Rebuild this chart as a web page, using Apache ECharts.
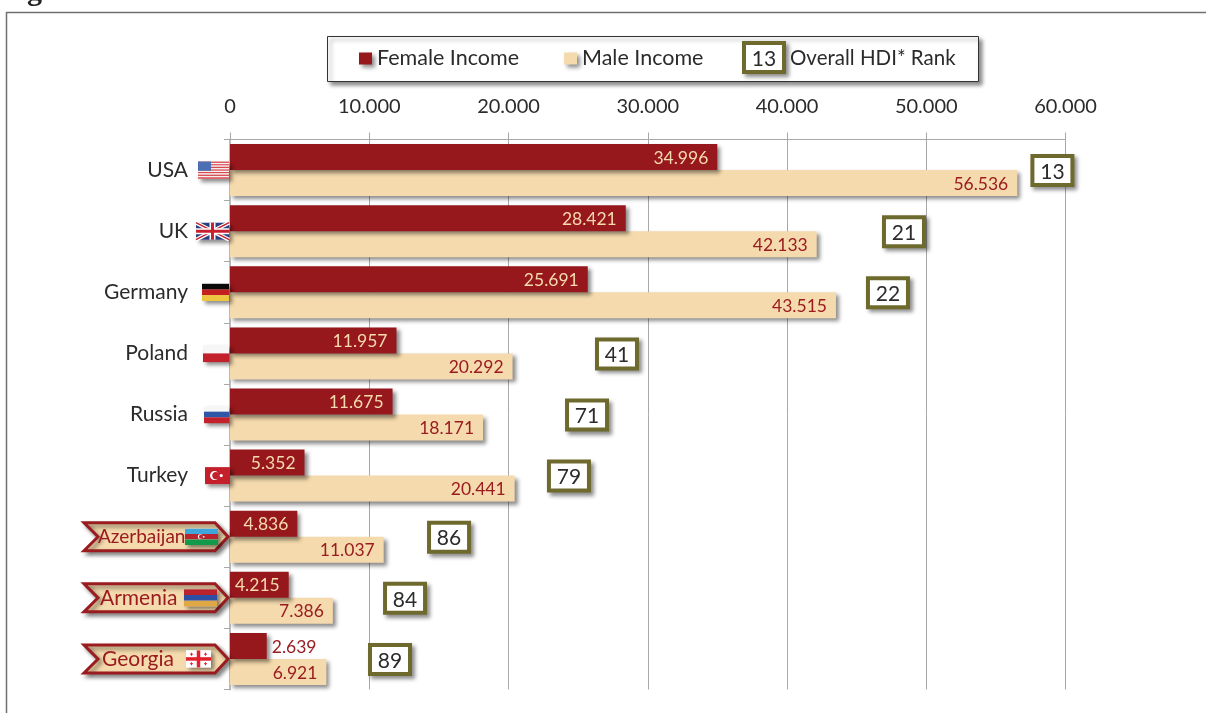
<!DOCTYPE html>
<html>
<head>
<meta charset="utf-8">
<title>Income by gender</title>
<script src="https://cdn.jsdelivr.net/npm/echarts@6/dist/echarts.min.js"></script>
<style>
html, body { margin: 0; padding: 0; background: #fff; overflow: hidden; }
#chart { width: 1206px; height: 713px; }
</style>
</head>
<body>
<div id="chart"></div>
<script>
const categories = ['USA', 'UK', 'Germany', 'Poland', 'Russia', 'Turkey', 'Azerbaijan', 'Armenia', 'Georgia'];
const femaleIncome = [34996, 28421, 25691, 11957, 11675, 5352, 4836, 4215, 2639];
const maleIncome = [56536, 42133, 43515, 20292, 18171, 20441, 11037, 7386, 6921];
const hdiRank = [13, 21, 22, 41, 71, 79, 86, 84, 89];
// where the rank box sits, in income units
const rankAt = [59060, 48400, 47250, 27790, 25640, 24340, 15730, 12570, 11490];
const xTicks = [0, 10000, 20000, 30000, 40000, 50000, 60000];
const tagged = ['Azerbaijan', 'Armenia', 'Georgia'];

const RED = '#96171C';
const TAN = '#F5DAAD';
const OLIVE = '#6E6A2E';
const INK = '#2b2b2b';
const FONT = 'Lato';
const shadow = { shadowColor: 'rgba(0,0,0,0.45)', shadowBlur: 4, shadowOffsetX: 3, shadowOffsetY: 3 };

// flag box relative to the axis: right edge offset from x=0, width, height
const flagBox = {
    USA: [-1, 31, 17], UK: [-1, 33, 17], Germany: [-1, 27, 17], Poland: [-1, 26, 17], Russia: [-1, 25, 17],
    Turkey: [0, 25, 17], Azerbaijan: [-12, 33, 16], Armenia: [-13, 33, 17], Georgia: [-19, 25, 17]
};
// tag text: offset of its left edge from the axis, font size
const tagText = { Azerbaijan: [-132, 19], Armenia: [-130, 21], Georgia: [-128, 21] };

function rect(x, y, w, h, fill, extra) {
    return { type: 'rect', shape: { x: x, y: y, width: w, height: h }, style: Object.assign({ fill: fill }, extra || {}) };
}
function line(x1, y1, x2, y2, color, width) {
    return { type: 'line', shape: { x1: x1, y1: y1, x2: x2, y2: y2 }, style: { stroke: color, lineWidth: width } };
}
function stripes(x, y, w, h, colors) {
    const s = h / colors.length;
    return colors.map((c, i) => rect(x, y + i * s, w, s + 0.2, c));
}
function crescent(cx, cy, r, back) {
    return [
        { type: 'circle', shape: { cx: cx, cy: cy, r: r }, style: { fill: '#fff' } },
        { type: 'circle', shape: { cx: cx + r * 0.3, cy: cy, r: r * 0.8 }, style: { fill: back } },
        { type: 'circle', shape: { cx: cx + r * 1.5, cy: cy, r: r * 0.35 }, style: { fill: '#fff' } }
    ];
}
function flagParts(name, x, y, w, h) {
    if (name === 'USA') {
        const c = [];
        for (let i = 0; i < 13; i++) c.push(i % 2 ? '#f4f0f0' : '#d8484f');
        return stripes(x, y, w, h, c).concat([rect(x, y, w * 0.42, h * 0.54, '#4a6fb5')]);
    }
    if (name === 'UK') {
        return [
            rect(x, y, w, h, '#2b3f7e'),
            line(x, y, x + w, y + h, '#fff', 4), line(x + w, y, x, y + h, '#fff', 4),
            line(x, y, x + w, y + h, '#c8202f', 1.5), line(x + w, y, x, y + h, '#c8202f', 1.5),
            line(x + w / 2, y, x + w / 2, y + h, '#fff', 6), line(x, y + h / 2, x + w, y + h / 2, '#fff', 6),
            line(x + w / 2, y, x + w / 2, y + h, '#c8202f', 3), line(x, y + h / 2, x + w, y + h / 2, '#c8202f', 3)
        ];
    }
    if (name === 'Germany') return stripes(x, y, w, h, ['#0a0a0a', '#c3211f', '#eec540']);
    if (name === 'Poland') return stripes(x, y, w, h, ['#f6f6f6', '#c4202b']);
    if (name === 'Russia') return stripes(x, y, w, h, ['#f6f6f6', '#2f57a8', '#c4202b']);
    if (name === 'Turkey') return [rect(x, y, w, h, '#c4202b')].concat(crescent(x + w * 0.38, y + h / 2, 4.5, '#c4202b'));
    if (name === 'Azerbaijan') {
        return stripes(x, y, w, h, ['#3fa6dc', '#b8232d', '#129a4b']).concat(crescent(x + w * 0.46, y + h / 2, 2.4, '#b8232d'));
    }
    if (name === 'Armenia') return stripes(x, y, w, h, ['#b8232d', '#2c4fa3', '#dfa845']);
    if (name === 'Georgia') {
        const out = [
            rect(x, y, w, h, '#fff'),
            line(x + w / 2, y, x + w / 2, y + h, '#e2202c', 3.5), line(x, y + h / 2, x + w, y + h / 2, '#e2202c', 3.5)
        ];
        [[0.22, 0.22], [0.78, 0.22], [0.22, 0.78], [0.78, 0.78]].forEach(p => {
            out.push(rect(x + w * p[0] - 1.5, y + h * p[1] - 0.5, 3, 1, '#e2202c'));
            out.push(rect(x + w * p[0] - 0.5, y + h * p[1] - 1.5, 1, 3, '#e2202c'));
        });
        return out;
    }
    return [];
}

function renderFlag(params, api) {
    const name = categories[params.dataIndex];
    const p = api.coord([0, params.dataIndex]);
    const box = flagBox[name];
    const x = p[0] + box[0] - box[1];
    const y = p[1] - box[2] / 2;
    const children = [];
    if (tagged.indexOf(name) >= 0) {
        const top = p[1] - 14, bot = p[1] + 14, l = p[0] - 146, r = p[0] - 15, tip = p[0] - 2;
        children.push({
            type: 'polygon',
            shape: { points: [[l, top], [r, top], [tip, p[1]], [r, bot], [l, bot], [l + 14, p[1]]] },
            style: Object.assign({ fill: TAN, stroke: '#9B1C20', lineWidth: 3, lineJoin: 'miter' }, shadow)
        });
        children.push({
            type: 'text',
            style: {
                text: name, x: p[0] + tagText[name][0], y: p[1] + 0.5, fill: '#9B1C20',
                fontFamily: FONT, fontSize: tagText[name][1], textAlign: 'left', textVerticalAlign: 'middle'
            }
        });
    }
    children.push(rect(x, y, box[1], box[2], '#fff', shadow));
    return { type: 'group', children: children.concat(flagParts(name, x, y, box[1], box[2])) };
}

function renderRank(params, api) {
    const p = api.coord([api.value(0), api.value(1)]);
    const x = p[0] - 20, y = p[1] - 14;
    return {
        type: 'group',
        children: [
            rect(x - 2, y - 2, 44, 33, OLIVE, shadow),
            rect(x + 2, y + 2, 36, 25, '#fff'),
            {
                type: 'text',
                style: {
                    text: String(api.value(2)), x: p[0], y: p[1] + 2, fill: INK, fontFamily: FONT, fontSize: 21,
                    textAlign: 'center', textVerticalAlign: 'middle'
                }
            }
        ]
    };
}

const chart = echarts.init(document.getElementById('chart'), null, { renderer: 'canvas' });
chart.setOption({
    animation: false,
    textStyle: { fontFamily: FONT },
    grid: { left: 230, right: 140.5, top: 139.5, height: 550, containLabel: false },
    legend: {
        left: 359, top: 47.5, padding: 0, itemGap: 45, itemWidth: 13, itemHeight: 12,
        data: [{ name: 'Female Income', icon: 'rect' }, { name: 'Male Income', icon: 'rect' }],
        textStyle: { color: INK, fontSize: 21.5, fontFamily: FONT },
        itemStyle: shadow
    },
    xAxis: {
        type: 'value', position: 'top', min: xTicks[0], max: xTicks[xTicks.length - 1], interval: 10000,
        axisLine: { show: true, lineStyle: { color: '#a8a8a8', width: 1 } },
        axisTick: { show: true, length: 7, lineStyle: { color: '#a8a8a8' } },
        splitLine: { show: true, lineStyle: { color: '#a8a8a8', width: 1 } },
        axisLabel: {
            margin: 23, color: INK, fontSize: 20, fontFamily: FONT,
            formatter: v => v === 0 ? '0' : (v / 1000) + '.000'
        }
    },
    yAxis: {
        type: 'category', inverse: true, data: categories,
        axisLine: { show: true, lineStyle: { color: '#bdbdbd', width: 2 } },
        axisTick: { show: true, length: 6, lineStyle: { color: '#a8a8a8' } },
        axisLabel: {
            margin: 42, color: INK, fontSize: 21, fontFamily: FONT, padding: [4, 0, 0, 0],
            formatter: v => tagged.indexOf(v) >= 0 ? '' : v
        }
    },
    graphic: [
        { type: 'line', z: 0, shape: { x1: 6.5, y1: 12.5, x2: 1206, y2: 12.5 }, style: { stroke: '#6f6f6f', lineWidth: 1.5 } },
        { type: 'line', z: 0, shape: { x1: 6.5, y1: 12, x2: 6.5, y2: 713 }, style: { stroke: '#6f6f6f', lineWidth: 1.5 } },
        { type: 'text', z: 0, left: 27, top: -23, style: { text: 'g', fill: '#222', fontSize: 30, fontFamily: 'Liberation Serif', fontWeight: 'bold' } },
        { type: 'rect', z: 1, shape: { x: 327.5, y: 36.5, width: 651, height: 45 }, style: Object.assign({ fill: '#fff', stroke: '#333', lineWidth: 1 }, shadow) },
        { type: 'rect', z: 2, shape: { x: 742, y: 41, width: 44, height: 33 }, style: Object.assign({ fill: OLIVE }, shadow) },
        { type: 'rect', z: 2, shape: { x: 746, y: 45, width: 36, height: 25 }, style: { fill: '#fff' } },
        { type: 'text', z: 3, x: 764, y: 59, style: { text: String(hdiRank[0]), fill: INK, fontSize: 21, fontFamily: FONT, textAlign: 'center', textVerticalAlign: 'middle' } },
        { type: 'text', z: 3, x: 790, y: 58, style: { text: 'Overall HDI* Rank', fill: INK, fontSize: 20.5, fontFamily: FONT, textVerticalAlign: 'middle' } }
    ],
    series: [
        {
            name: 'Female Income', type: 'bar', barWidth: 26, barGap: '0%', z: 3,
            itemStyle: Object.assign({ color: RED }, shadow),
            label: {
                show: true, position: 'insideRight', distance: 9, offset: [0, 1], color: TAN, fontSize: 17.5, fontFamily: FONT,
                formatter: p => (p.value / 1000).toFixed(3)
            },
            data: femaleIncome.map((v, i) => categories[i] === 'Georgia'
                ? { value: v, label: { position: 'right', distance: 5, color: '#9B1C20' } }
                : v)
        },
        {
            name: 'Male Income', type: 'bar', barWidth: 26, z: 2,
            itemStyle: Object.assign({ color: TAN }, shadow),
            label: {
                show: true, position: 'insideRight', distance: 9, offset: [0, 1], color: '#9B1C20', fontSize: 17.5, fontFamily: FONT,
                formatter: p => (p.value / 1000).toFixed(3)
            },
            data: maleIncome
        },
        {
            name: 'flags', type: 'custom', coordinateSystem: 'cartesian2d', clip: false, z: 4, silent: true,
            renderItem: renderFlag,
            data: categories.map((c, i) => [0, i])
        },
        {
            name: 'HDI rank', type: 'custom', coordinateSystem: 'cartesian2d', clip: false, z: 5, silent: true,
            renderItem: renderRank,
            data: rankAt.map((x, i) => [x, i, hdiRank[i]])
        }
    ]
});
</script>
</body>
</html>
